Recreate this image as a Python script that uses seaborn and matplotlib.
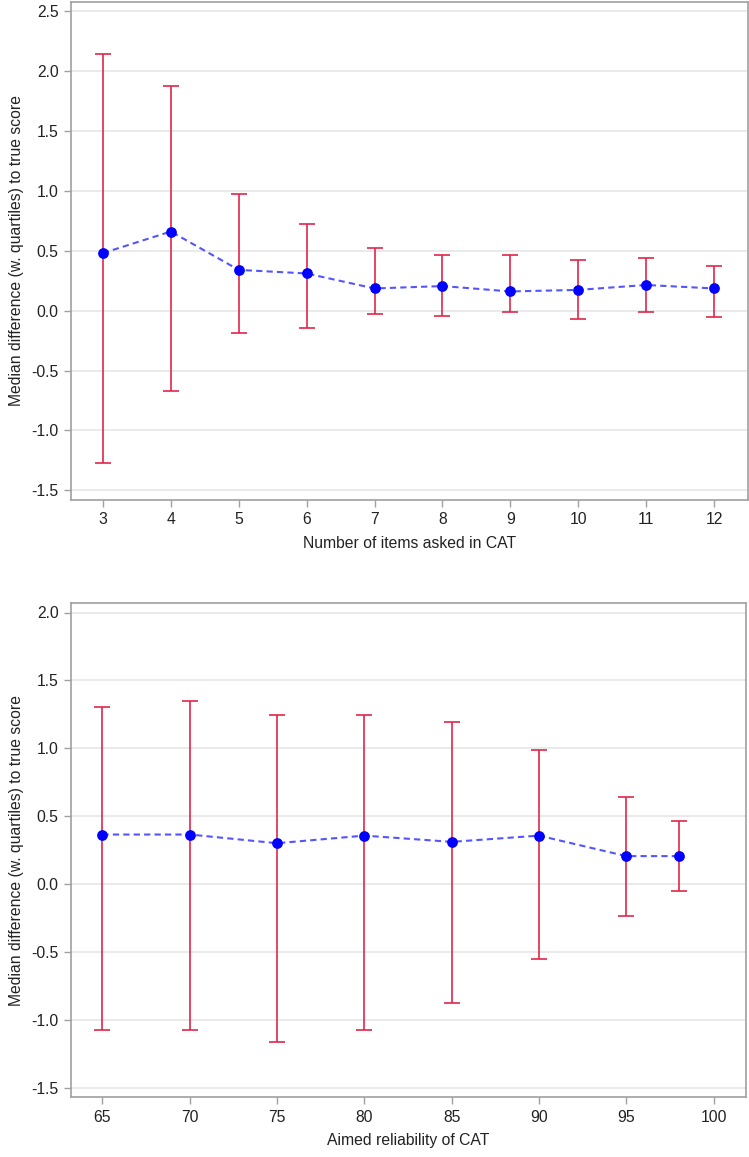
import matplotlib
matplotlib.use("Agg")
import matplotlib.pyplot as plt
import seaborn as sns
import numpy as np
import pandas as pd

# ---- data: top panel ----
items = [3, 4, 5, 6, 7, 8, 9, 10, 11, 12]
items_median = [0.48, 0.66, 0.34, 0.31, 0.185, 0.205, 0.16, 0.173, 0.214, 0.185]
items_q1 = [-1.27, -0.667, -0.19, -0.149, -0.03, -0.048, -0.01, -0.068, -0.01, -0.057]
items_q3 = [2.143, 1.872, 0.975, 0.72, 0.52, 0.467, 0.467, 0.426, 0.44, 0.369]

# ---- data: bottom panel ----
reliab = [65, 70, 75, 80, 85, 90, 95, 98]
rel_median = [0.364, 0.364, 0.30, 0.356, 0.31, 0.356, 0.205, 0.205]
rel_q1 = [-1.079, -1.079, -1.162, -1.079, -0.877, -0.556, -0.236, -0.052]
rel_q3 = [1.304, 1.351, 1.244, 1.244, 1.192, 0.986, 0.641, 0.463]

ytick_top = [-1.5, -1.0, -0.5, 0.0, 0.5, 1.0, 1.5, 2.0, 2.5]
ytick_bot = [-1.5, -1.0, -0.5, 0.0, 0.5, 1.0, 1.5, 2.0]
xtick_top = items
xtick_bot = [65, 70, 75, 80, 85, 90, 95, 100]

sns.set_style("white")
plt.rcParams['font.family'] = ['Liberation Sans', 'DejaVu Sans']

W, H = 749, 1157
fig = plt.figure(figsize=(W / 100, H / 100), dpi=100)

def px_axes(left, top, right, bottom):
    return fig.add_axes([left / W, 1 - bottom / H, (right - left) / W, (bottom - top) / H])

ax1 = px_axes(71, 2, 748, 500)
ax2 = px_axes(71, 603, 746, 1097)

ERR = '#E1264C'
MARK = '#0000FF'
LINE = '#5555FF'
SPINE = '#A0A0A0'
GRID = '#E6E6E6'

def draw(ax, x, med, q1, q3, xlabel, xlim, ylim, xticks, yticks):
    df = pd.DataFrame({'x': x, 'y': med})
    med = np.array(med); q1 = np.array(q1); q3 = np.array(q3)
    ax.set_axisbelow(True)
    for yv in yticks:
        ax.axhline(yv, color=GRID, lw=1.2, zorder=0)
    ax.errorbar(x, med, yerr=[med - q1, q3 - med], fmt='none', ecolor=ERR,
                elinewidth=1.2, capsize=6, capthick=1.2, zorder=2)
    sns.lineplot(data=df, x='x', y='y', ax=ax, color=LINE, lw=1.5,
                 linestyle=(0, (3, 2)), zorder=3)
    sns.scatterplot(data=df, x='x', y='y', ax=ax, color=MARK, s=60,
                    edgecolor=MARK, linewidth=0, zorder=4)
    ax.set_xlim(*xlim)
    ax.set_ylim(*ylim)
    ax.set_xticks(xticks)
    ax.set_xticklabels([str(t) for t in xticks])
    ax.set_yticks(yticks)
    ax.set_yticklabels([f"{t:.1f}" for t in yticks])
    ax.tick_params(axis='both', which='both', direction='out', length=5,
                   width=1, color=SPINE, labelsize=11.3, labelcolor='#222222', pad=4,
                   left=True, bottom=True)
    for s in ax.spines.values():
        s.set_color(SPINE)
        s.set_linewidth(1.2)
    ax.set_xlabel(xlabel, fontsize=11.3, color='#222222', labelpad=6)
    ax.set_ylabel("Median difference (w. quartiles) to true score", fontsize=11.3,
                  color='#222222', labelpad=5)

draw(ax1, items, items_median, items_q1, items_q3, "Number of items asked in CAT",
     (2.53, 12.5), (-1.58, 2.575), xtick_top, ytick_top)
draw(ax2, reliab, rel_median, rel_q1, rel_q3, "Aimed reliability of CAT",
     (63.2, 101.86), (-1.57, 2.07), xtick_bot, ytick_bot)

fig.savefig("out.png", dpi=100)
